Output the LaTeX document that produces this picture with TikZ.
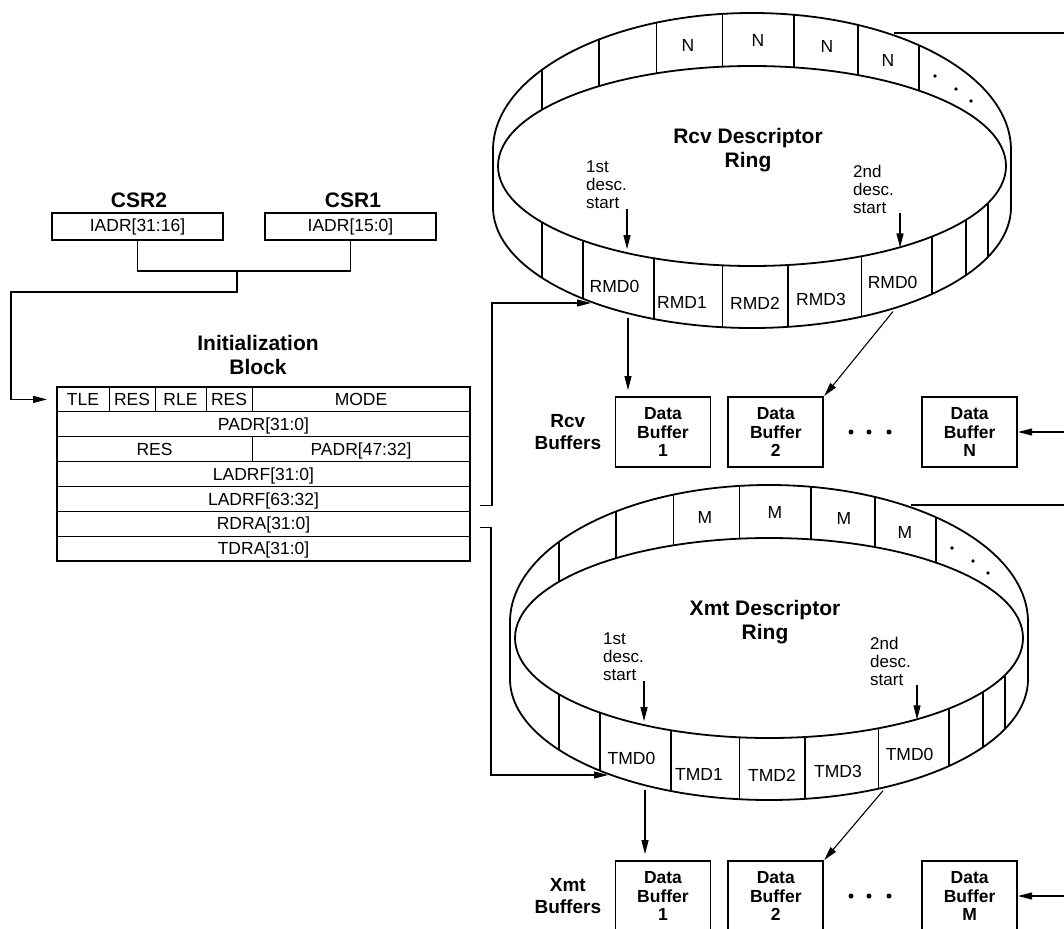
\documentclass[tikz,border=0pt]{standalone}
\usepackage{fontspec}
\setmainfont{Liberation Sans}
\usetikzlibrary{arrows.meta}
\usetikzlibrary{positioning}

\begin{document}
\begin{tikzpicture}[x=1pt, y=-1pt,
    font=\fontsize{17.5}{20}\selectfont,
    arr/.style={-{Triangle[length=14pt,width=7pt]}, line width=1.1pt},
    wall/.style={line width=1.8pt},
    reg/.style={draw, line width=1.8pt, minimum width=171pt, minimum height=27pt, inner sep=0pt},
    fld/.style={draw, line width=1pt, minimum height=24.86pt, inner sep=0pt, outer sep=0pt,
      text height=12.5pt, text depth=0pt, anchor=north west},
    title/.style={font=\bfseries\fontsize{21}{24}\selectfont, align=center},
    desc/.style={font=\fontsize{17}{18}\selectfont, align=left, inner sep=0pt},
    buf/.style={draw, line width=1.8pt, minimum width=95pt, minimum height=70pt, inner sep=0pt,
      align=center, font=\bfseries\fontsize{17.5}{18.5}\selectfont},
    grp/.style={font=\bfseries\fontsize{19}{22}\selectfont, align=center}]
  \useasboundingbox (0,0) rectangle (1064,928);

  % address registers
  \node[reg] (csr2) at (137.5,226.5) {IADR[31:16]};
  \node[reg] (csr1) at (350.5,226.5) {IADR[15:0]};
  \node[title] (csr2t) at (139,200) {CSR2};
  \node[title] (csr1t) at (353,200) {CSR1};
  \coordinate (join) at (237,271);
  \coordinate (lft) at (11,292);
  \draw[line width=1.1pt] (csr2.south) |- (join) -| (csr1.south);

  % initialization block
  \node[title] (ibt) at (258,355) {Initialization\\Block};
  \node[fld, minimum width=52pt] (tle) at (57,387) {TLE};
  \node[fld, minimum width=46pt, right=0pt of tle] (res1) {RES};
  \node[fld, minimum width=51pt, right=0pt of res1] (rle) {RLE};
  \node[fld, minimum width=46pt, right=0pt of rle] (res2) {RES};
  \node[fld, minimum width=218pt, right=0pt of res2] (mode) {MODE};
  \node[fld, minimum width=413pt, below=0pt of tle.south west, anchor=north west] (padr) {PADR[31:0]};
  \node[fld, minimum width=195pt, below=0pt of padr.south west, anchor=north west] (res3) {RES};
  \node[fld, minimum width=218pt, right=0pt of res3] (padrh) {PADR[47:32]};
  \node[fld, minimum width=413pt, below=0pt of res3.south west, anchor=north west] (ladrf) {LADRF[31:0]};
  \node[fld, minimum width=413pt, below=0pt of ladrf.south west, anchor=north west] (ladrfh) {LADRF[63:32]};
  \node[fld, minimum width=413pt, below=0pt of ladrfh.south west, anchor=north west] (rdra) {RDRA[31:0]};
  \node[fld, minimum width=413pt, below=0pt of rdra.south west, anchor=north west] (tdra) {TDRA[31:0]};
  \draw[line width=2.2pt] (tle.north west) rectangle (tdra.south east);
  \draw[arr, shorten >=10pt] (join) |- (lft) |- (tle.west);

  % descriptor rings and their buffers
  \foreach \cx/\cy/\rg/\lbl/\mdn/\ttl/\dg/\by in
      {752/150/R/N/RMD/Rcv/141/432, 769/622/T/M/TMD/Xmt/114/896}{
    \begin{scope}[shift={(\cx,\cy)}]
      \draw[wall] (-259,0) arc[start angle=180, end angle=360, x radius=259, y radius=137]
        -- (259,57) arc[start angle=0, end angle=180, x radius=259, y radius=121] -- cycle;
      \draw[wall] (0,16) ellipse [x radius=254, y radius=100];
      \foreach \x in {-210,-153.3,-95.5,-29.6,41.8,105.9,167}
        \draw[wall] (\x,{-137*sqrt(1-(\x/259)*(\x/259))}) -- (\x,{16-100*sqrt(1-(\x/254)*(\x/254))});
      \foreach \x in {-209.7,-168.7,-98,-29.6,36.3,109.5,180,213.8,235.8}
        \draw[wall] (\x,{16+100*sqrt(1-(\x/254)*(\x/254))}) -- (\x,{57+121*sqrt(1-(\x/259)*(\x/259))});
      \foreach \x/\y [count=\i] in {-64/-105, 6/-110, 75/-104, 136/-90}
        \node (\rg cnt\i) at (\x,\y) {\lbl};
      \foreach \x/\y in {183/-74, 204/-61, 219/-49}
        \fill (\x,\y) circle (1.8);
      \foreach \x/\y/\k [count=\i] in {-137.5/136/0, -70/152/1, 3/153/2, 69/149/3, 140.6/132/0}
        \node (\rg md\i) at (\x,\y) {\mdn\k};
      \node[title] (\rg ttl) at (-4,0) {\ttl\ Descriptor\\Ring};
      \node[desc, anchor=west] (\rg d1) at (-166,35) {1st\\desc.\\start};
      \node[desc, anchor=west] (\rg d2) at (101,39) {2nd\\desc.\\start};
      \draw[arr] (\rg d1.south east) -- ++(0,40);
      \draw[arr] ([xshift=6pt]\rg d2.south east) -- ++(0,34);
      \coordinate (\rg in) at (-161,153);
      \coordinate (\rg out1) at (-124,168);
      \coordinate (\rg out2) at (\dg,{60+121*sqrt(1-(\dg/259)*(\dg/259))});
      \coordinate (\rg top) at (142,-117);
    \end{scope}
    \node[buf] (\rg buf1) at (663,\by) {Data\\Buffer\\1};
    \node[buf, right=16pt of \rg buf1] (\rg buf2) {Data\\Buffer\\2};
    \node[buf, right=97pt of \rg buf2] (\rg bufn) {Data\\Buffer\\\lbl};
    \node[grp, left=10pt of \rg buf1] (\rg bl) {\ttl\\Buffers};
    \foreach \x in {851,869,889}
      \fill (\x,\by) circle (2.5);
    \draw[arr, shorten >=6pt] (\rg out1) -- (\rg out1 |- \rg buf1.north);
    \draw[arr] (\rg out2) -- (\rg buf2.north east);
    \draw[arr] (\rg top) -- ++(200,0) |- (\rg bufn.east);
  }

  % ring pointers
  \draw[arr] ([xshift=10pt,yshift=6pt]rdra.north east) -- ++(12,0) |- (Rin);
  \draw[arr] ([xshift=10pt,yshift=-4pt]rdra.east) -- ++(11,0) |- (Tin);
\end{tikzpicture}
\end{document}
